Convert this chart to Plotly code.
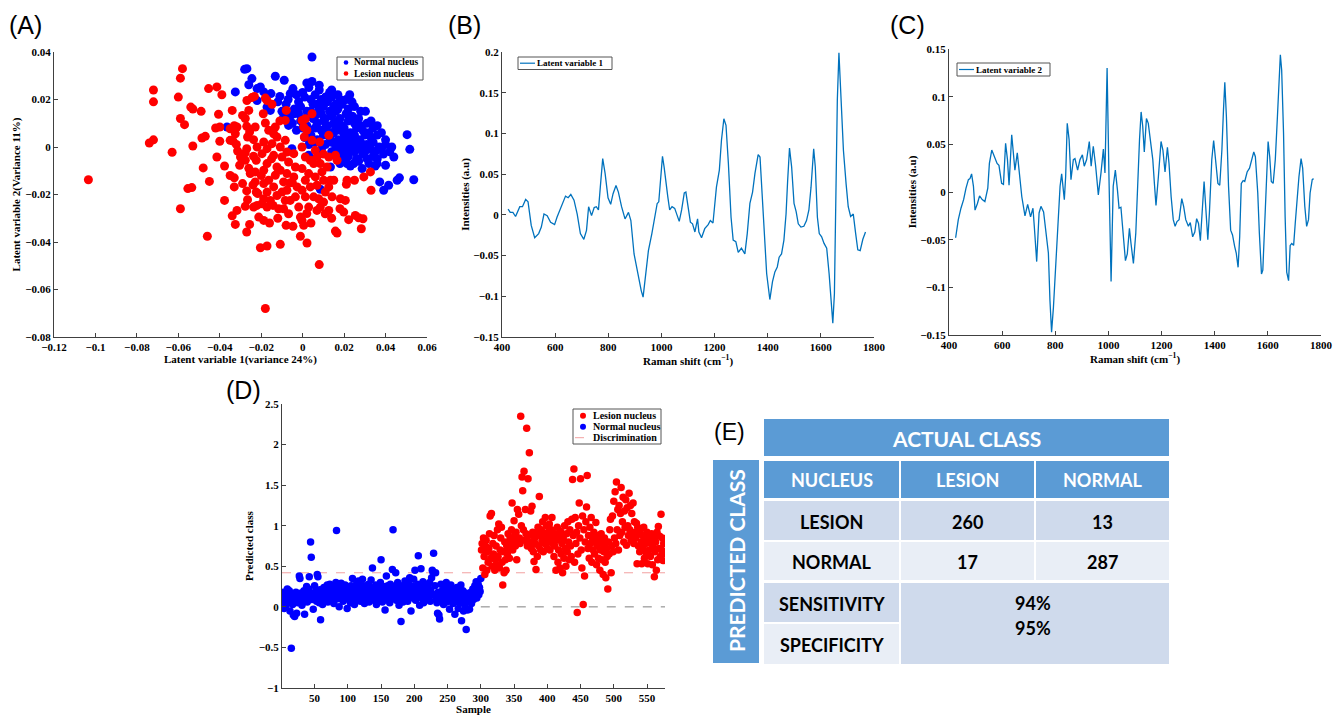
import plotly.graph_objects as go

# ---------------- Panel A : latent variable scores ----------------
lesion_x = [-0.1034, -0.018, 0.008, -0.046, -0.059, -0.058, -0.059, -0.072, -0.072, -0.060,
            -0.074, -0.072, -0.063, -0.059, -0.057, -0.054, -0.053, -0.049, -0.053, -0.0486,
            -0.047, -0.048, -0.0554, -0.0535, -0.045, -0.0454, -0.0414, -0.039, -0.0406, -0.042,
            -0.040, -0.040, -0.0414, -0.0377, -0.034, -0.035, -0.033, -0.0317, -0.0336, -0.032,
            -0.035, -0.033, -0.034, -0.0325, -0.0317, -0.0304, -0.029, -0.0277, -0.0269, -0.026,
            -0.0277, -0.027, -0.0256, -0.0266, -0.027, -0.0277, -0.026, -0.027, -0.0266, -0.0277,
            -0.027, -0.0256, -0.0245, -0.0233, -0.0229, -0.0237, -0.022, -0.0237, -0.0224, -0.0229,
            -0.0229, -0.0224, -0.0217, -0.022, -0.0237, -0.0204, -0.0172, -0.0212, -0.0188, -0.0196,
            -0.018, -0.0172, -0.018, -0.0164, -0.0188, -0.0172, -0.0196, -0.0172, -0.0188, -0.0164,
            -0.0188, -0.0172, -0.0188, -0.0172, -0.0156, -0.0148, -0.014, -0.0148, -0.014, -0.0124,
            -0.0132, -0.014, -0.0124, -0.0143, -0.0116, -0.0108, -0.0124, -0.0108, -0.010, -0.0108,
            -0.0092, -0.010, -0.0084, -0.0092, -0.0079, -0.0084, -0.0076, -0.0068, -0.0076, -0.0063,
            -0.0076, -0.0068, -0.0047, -0.006, -0.0043, -0.0035, -0.0043, -0.0027, -0.0035, -0.0019,
            -0.0011, -0.0011, -0.0003, 0.0005, -0.0003, 0.0005, 0.0008, -0.0003, 0.0013, -0.0003,
            0.0013, -0.0003, 0.0013, 0.0021, 0.0029, 0.0029, 0.0037, 0.0045, 0.0037, 0.0053,
            0.0061, 0.0053, 0.0061, 0.0069, 0.0077, 0.0069, 0.0085, 0.0085, 0.0093, 0.0082,
            0.0101, 0.0109, 0.0101, 0.0126, 0.0126, 0.0118, 0.0134, 0.0126, 0.0142, 0.0126,
            0.0109, 0.0158, 0.0166, 0.015, 0.0182, 0.0206, 0.0158, 0.0166, 0.0198, 0.0222,
            0.0214, 0.0211, 0.025, 0.0254, 0.027, 0.0283, 0.0291, 0.0295, 0.0327, 0.033,
            0.0013, -0.0084, 0.0045, -0.0132, -0.0377, -0.033, -0.030, -0.0325, -0.035, -0.029,
            -0.0314, -0.0253, -0.005, -0.012, 0.002, -0.020, -0.015, 0.010, -0.008, 0.004,
            -0.016, 0.014, 0.018, -0.024, -0.019, -0.011, 0.007, 0.002]
lesion_y = [-0.0138, -0.068, -0.0495, -0.0376, -0.026, 0.033, 0.029, 0.024, 0.019, 0.021,
            0.0017, 0.003, -0.0022, 0.012, 0.0094, 0.0168, 0.016, 0.015, 0.0004, 0.0038,
            0.0045, -0.0088, -0.0175, -0.0171, -0.0145, 0.0246, 0.0253, 0.022, 0.0138, 0.008,
            0.0084, 0.0024, -0.0042, -0.008, 0.0154, 0.0077, 0.009, 0.0084, 0.0025, 0.0011,
            -0.012, -0.013, -0.029, -0.0326, -0.0267, -0.0077, -0.0154, -0.0056, 0.0196, 0.0154,
            0.012, 0.0087, 0.0063, 0.0042, -0.0007, -0.0025, -0.009, -0.0185, -0.0222, -0.025,
            -0.0358, -0.0326, 0.0208, 0.0213, 0.0084, 0.0031, 0.0, -0.0039, -0.0056, -0.0105,
            -0.0147, -0.019, -0.0196, -0.0246, -0.0253, -0.0424, -0.0417, -0.0295, -0.0309, -0.0239,
            0.0206, 0.0196, 0.0101, 0.007, 0.0021, -0.0007, -0.0028, -0.007, -0.0098, -0.014,
            -0.0154, -0.019, -0.0218, -0.0253, -0.0225, 0.018, 0.0056, 0.0014, -0.0035, -0.0084,
            -0.0119, -0.0168, -0.0204, -0.0246, -0.026, -0.041, 0.0042, 0.0, -0.0042, -0.0098,
            -0.0147, -0.019, -0.0225, -0.026, 0.0154, 0.0028, -0.0021, -0.0063, -0.0112, -0.0152,
            -0.0182, -0.0281, -0.0334, -0.0225, -0.0028, -0.0084, -0.0126, -0.0168, -0.021, -0.0253,
            -0.0295, -0.0376, -0.0309, -0.033, 0.0112, 0.0084, 0.0042, 0.0, -0.0042, -0.0091,
            -0.014, -0.0182, -0.021, -0.0404, -0.0253, -0.0112, -0.0056, 0.014, -0.0168, -0.021,
            -0.0014, -0.007, -0.0126, -0.0161, -0.0218, -0.0267, -0.0253, -0.007, -0.0105, 0.0021,
            -0.014, -0.019, -0.0232, 0.0049, -0.0042, -0.0084, -0.014, -0.0168, -0.021, -0.0267,
            -0.0281, -0.0035, -0.0056, -0.014, -0.0218, -0.0225, -0.0354, -0.0362, -0.0274, -0.0306,
            -0.014, -0.0157, -0.014, -0.0288, -0.0298, -0.0344, -0.0302, -0.0126, -0.0105, -0.0182,
            0.0119, 0.0112, 0.0028, 0.0084, -0.0225, -0.0168, -0.0042, 0.0056, 0.0028, 0.0133,
            -0.0017, -0.0112, -0.015, -0.030, -0.028, -0.012, -0.005, -0.003, -0.033, -0.032,
            -0.032, -0.030, -0.026, -0.016, 0.014, 0.011, -0.004, 0.007]

normal_x = [0.0045, -0.028, -0.0269, -0.0132, -0.0089, 0.0045, -0.026, -0.0245, -0.0325, -0.022,
            -0.0204, -0.0153, -0.011, -0.0047, -0.006, 0.0227, 0.0238, 0.0303, 0.0504, 0.0517,
            0.0536, 0.044, 0.040, 0.0372, 0.0391, 0.0415, 0.0456, 0.0467, 0.0359, 0.0287,
            0.0085, 0.0134, 0.0029, -0.0052, -0.0068, -0.0043, -0.0092, -0.0172, -0.0156, -0.022,
            -0.0188, -0.0365, 0.0214, 0.0246, 0.019,
            0.0, 0.003, 0.006, 0.008, 0.011, 0.013,
            -0.002, 0.001, 0.004, 0.007, 0.009, 0.012, 0.014, 0.016, 0.018,
            -0.004, -0.001, 0.002, 0.005, 0.008, 0.010, 0.013, 0.015, 0.017, 0.019, 0.022,
            -0.006, -0.002, 0.001, 0.004, 0.006, 0.009, 0.011, 0.014, 0.016, 0.018, 0.021, 0.024, 0.027,
            -0.005, -0.001, 0.002, 0.005, 0.007, 0.010, 0.012, 0.015, 0.017, 0.019, 0.022, 0.025, 0.028, 0.031,
            -0.003, 0.000, 0.003, 0.006, 0.009, 0.011, 0.014, 0.016, 0.018, 0.020, 0.023, 0.026, 0.029, 0.032, 0.034,
            0.001, 0.004, 0.007, 0.010, 0.013, 0.015, 0.017, 0.020, 0.022, 0.025, 0.027, 0.030, 0.033, 0.036,
            0.003, 0.006, 0.011, 0.014, 0.016, 0.019, 0.021, 0.024, 0.026, 0.028, 0.031, 0.034, 0.037, 0.040,
            0.009, 0.014, 0.018, 0.020, 0.023, 0.025, 0.028, 0.030, 0.033, 0.035, 0.038, 0.042,
            0.016, 0.019, 0.022, 0.026, 0.029, 0.031, 0.034, 0.036, 0.039,
            0.018, 0.023, 0.027, 0.032, 0.035,
            -0.008, -0.010, -0.007, -0.012, -0.003,
            0.002, 0.008, 0.014, 0.017, 0.021, 0.025, 0.028, 0.033, 0.036, 0.038, 0.040, 0.043]
normal_y = [0.0379, 0.0327, 0.033, 0.0298, 0.0281, 0.0276, 0.0262, 0.0288, 0.0232, 0.0246,
            0.0253, 0.0225, 0.0213, 0.0246, 0.0225, 0.022, 0.019, 0.015, 0.0052, -0.001,
            -0.0138, -0.0042, -0.0077, -0.0147, -0.0182, -0.0161, -0.014, -0.013, -0.007, -0.0091,
            -0.0178, -0.0084, -0.0035, -0.0007, 0.0091, 0.014, 0.0126, 0.0168, 0.0154, 0.0196,
            0.0232, 0.0084, -0.007, -0.007, -0.0035,
            0.023, 0.025, 0.022, 0.024, 0.021, 0.023,
            0.019, 0.021, 0.020, 0.018, 0.020, 0.019, 0.021, 0.018, 0.020,
            0.016, 0.017, 0.015, 0.018, 0.016, 0.017, 0.015, 0.017, 0.016, 0.018, 0.016,
            0.013, 0.014, 0.012, 0.015, 0.013, 0.014, 0.012, 0.013, 0.015, 0.012, 0.014, 0.013, 0.012,
            0.010, 0.011, 0.009, 0.012, 0.010, 0.011, 0.009, 0.010, 0.011, 0.009, 0.011, 0.010, 0.009, 0.010,
            0.007, 0.008, 0.006, 0.008, 0.007, 0.008, 0.006, 0.008, 0.007, 0.008, 0.006, 0.008, 0.007, 0.006, 0.008,
            0.004, 0.005, 0.003, 0.005, 0.004, 0.006, 0.003, 0.005, 0.004, 0.005, 0.003, 0.005, 0.004, 0.005,
            0.001, 0.002, 0.001, 0.002, 0.000, 0.002, 0.001, 0.002, 0.000, 0.002, 0.001, 0.002, 0.000, 0.001,
            -0.001, -0.002, -0.001, -0.002, -0.001, -0.002, -0.001, -0.002, -0.001, -0.002, -0.001, -0.002,
            -0.004, -0.005, -0.004, -0.005, -0.003, -0.005, -0.004, -0.005, -0.003,
            -0.007, -0.008, -0.006, -0.007, -0.008,
            0.018, 0.015, 0.020, 0.019, 0.022,
            0.027, 0.026, 0.024, 0.022, 0.020, 0.017, 0.015, 0.011, 0.009, 0.006, 0.003, 0.000]

# ---------------- Panel B : latent variable 1 loading ----------------
lv1_shift = [423, 431, 441, 451, 467, 477, 489, 498, 510, 523,
             538, 548, 558, 570, 583, 598, 607, 620, 639, 649,
             659, 671, 683, 695, 708, 718, 726, 737, 747, 755,
             763, 770, 779, 788, 799, 809, 818, 829, 838, 850,
             863, 876, 885, 897, 906, 915, 924, 931, 941, 951,
             964, 975, 984, 990, 996, 1004, 1010, 1018, 1024, 1031,
             1040, 1050, 1059, 1067, 1076, 1086, 1092, 1101, 1109, 1117,
             1126, 1136, 1141, 1151, 1163, 1176, 1184, 1194, 1207, 1218,
             1226, 1235, 1243, 1252, 1262, 1270, 1280, 1289, 1301, 1314,
             1323, 1333, 1343, 1352, 1364, 1371, 1378, 1387, 1396, 1408,
             1418, 1427, 1436, 1443, 1452, 1461, 1469, 1475, 1482, 1490,
             1499, 1507, 1515, 1525, 1536, 1546, 1555, 1563, 1573, 1579,
             1587, 1594, 1603, 1612, 1622, 1631, 1637, 1645, 1651, 1657,
             1662, 1668, 1675, 1685, 1695, 1703, 1712, 1722, 1731, 1739,
             1748, 1758, 1768]
lv1_intensity = [0.007, 0.003, 0.003, -0.002, 0.010, 0.010, 0.019, 0.016, -0.013, -0.028,
                 -0.023, -0.015, 0.001, -0.001, -0.009, -0.012, -0.003, 0.008, 0.023, 0.021,
                 0.025, 0.018, 0.001, -0.023, -0.030, -0.019, 0.010, -0.001, 0.009, 0.010,
                 0.006, 0.034, 0.069, 0.051, 0.021, 0.013, 0.026, 0.036, 0.028, 0.010,
                 -0.005, 0.003, -0.007, -0.048, -0.064, -0.076, -0.093, -0.101, -0.076, -0.044,
                 -0.023, -0.003, 0.014, 0.016, 0.042, 0.072, 0.059, 0.033, 0.022, 0.006,
                 0.010, 0.008, -0.001, -0.008, 0.006, 0.027, 0.028, 0.008, -0.009, -0.011,
                 -0.021, -0.005, -0.021, -0.028, -0.017, -0.012, -0.007, -0.010, 0.034, 0.055,
                 0.092, 0.118, 0.110, 0.063, -0.003, -0.031, -0.033, -0.046, -0.041, -0.048,
                 -0.023, 0.014, 0.028, 0.051, 0.074, 0.071, 0.034, -0.023, -0.072, -0.104,
                 -0.082, -0.070, -0.064, -0.052, -0.048, -0.031, 0.001, 0.042, 0.082, 0.059,
                 0.014, 0.004, -0.011, -0.015, -0.014, -0.007, 0.006, 0.034, 0.081, 0.059,
                 -0.003, -0.023, -0.027, -0.035, -0.041, -0.072, -0.101, -0.133, -0.097, 0.038,
                 0.141, 0.199, 0.141, 0.079, 0.038, 0.010, -0.002, 0.001, -0.023, -0.043,
                 -0.044, -0.030, -0.021]

# ---------------- Panel C : latent variable 2 loading ----------------
lv2_shift = [425, 435, 445, 455, 464, 473, 479, 485, 492, 498,
             507, 515, 525, 535, 546, 552, 561, 571, 581, 588,
             598, 605, 613, 620, 626, 636, 642, 648, 657, 665,
             674, 686, 696, 707, 716, 721, 730, 739, 746, 756,
             765, 774, 780, 786, 793, 801, 809, 818, 824, 834,
             839, 845, 852, 859, 868, 874, 884, 893, 902, 909,
             918, 928, 935, 943, 952, 962, 972, 981, 987, 995,
             1002, 1010, 1018, 1026, 1034, 1040, 1047, 1055, 1064, 1071,
             1079, 1085, 1094, 1103, 1110, 1117, 1123, 1129, 1135, 1143,
             1150, 1159, 1167, 1173, 1179, 1188, 1198, 1205, 1213, 1222,
             1228, 1236, 1244, 1251, 1258, 1266, 1276, 1283, 1291, 1301,
             1308, 1317, 1325, 1332, 1339, 1346, 1353, 1360, 1366, 1374,
             1380, 1389, 1396, 1404, 1412, 1419, 1427, 1433, 1438, 1444,
             1452, 1460, 1467, 1475, 1481, 1488, 1494, 1500, 1507, 1513,
             1522, 1531, 1538, 1547, 1553, 1562, 1568, 1576, 1581, 1587,
             1594, 1601, 1607, 1613, 1620, 1628, 1636, 1642, 1647, 1652,
             1659, 1665, 1671, 1678, 1684, 1690, 1697, 1703, 1710, 1717,
             1725, 1731, 1739, 1746, 1753, 1759, 1767, 1772]
lv2_intensity = [-0.048, -0.029, -0.017, -0.008, 0.004, 0.013, 0.014, 0.019, 0.006, -0.019,
                 -0.012, -0.004, -0.008, -0.010, 0.004, 0.030, 0.044, 0.037, 0.030, 0.028,
                 0.009, 0.008, 0.051, 0.034, 0.007, 0.060, 0.037, 0.023, 0.041, 0.016,
                 -0.005, -0.025, -0.013, -0.026, -0.017, -0.036, -0.073, -0.022, -0.015, -0.021,
                 -0.043, -0.064, -0.114, -0.147, -0.121, -0.082, -0.043, 0.006, 0.019, -0.008,
                 0.016, 0.072, 0.055, 0.013, 0.034, 0.035, 0.023, 0.034, 0.039, 0.027,
                 0.034, 0.053, 0.027, 0.048, 0.027, -0.003, 0.020, 0.045, 0.020, 0.130,
                 0.016, -0.094, 0.006, 0.023, 0.002, -0.017, -0.016, -0.043, -0.072, -0.065,
                 -0.038, -0.054, -0.075, -0.043, 0.016, 0.055, 0.084, 0.069, 0.042, 0.077,
                 0.072, 0.048, 0.034, 0.009, -0.014, 0.016, 0.053, 0.044, 0.021, 0.047,
                 0.030, -0.005, -0.029, -0.036, -0.031, -0.029, -0.007, -0.015, -0.029, -0.036,
                 -0.032, -0.047, -0.042, -0.028, -0.033, -0.051, -0.022, 0.011, -0.015, -0.050,
                 -0.022, 0.034, 0.054, 0.034, 0.009, 0.007, 0.044, 0.086, 0.115, 0.079,
                 0.006, -0.040, -0.045, -0.057, -0.064, -0.079, -0.047, 0.009, 0.012, 0.011,
                 0.021, 0.025, 0.034, 0.042, 0.037, -0.001, -0.043, -0.086, -0.082, -0.043,
                 0.016, 0.053, 0.037, 0.011, 0.009, 0.034, 0.079, 0.125, 0.144, 0.128,
                 0.062, -0.026, -0.084, -0.093, -0.056, -0.054, -0.056, -0.033, -0.008, 0.016,
                 0.035, 0.025, -0.015, -0.036, -0.029, -0.001, 0.013, 0.014]

# ---------------- Panel D : predicted class per sample ----------------
normal_pred = [0.12, 0.05, 0.18, -0.02, 0.08, 0.15, 0.02, 0.10, 0.22, 0.06,
               0.14, 0.20, -0.05, 0.09, -0.51, 0.16, 0.03, -0.10, 0.12, -0.12,
               0.07, 0.18, -0.08, 0.11, 0.05, 0.14, 0.38, 0.35, 0.09, 0.17,
               0.02, 0.12, 0.08, 0.20, -0.09, 0.15, 0.10, 0.25, 0.06, 0.18,
               0.22, 0.37, 0.13, 0.80, 0.61, 0.09, 0.17, -0.03, 0.14, 0.26,
               0.11, 0.19, 0.07, 0.40, 0.37, 0.15, 0.05, 0.21, -0.16, 0.12,
               0.18, 0.03, 0.10, 0.24, 0.16, 0.08, 0.20, 0.13, 0.27, 0.06,
               0.19, 0.11, 0.28, 0.15, 0.22, 0.09, 0.17, 0.25, 0.04, 0.13,
               0.21, 0.30, 0.94, 0.18, 0.10, 0.26, 0.00, 0.14, 0.23, 0.29,
               0.12, 0.19, 0.07, 0.24, 0.16, 0.27, 0.10, 0.20, -0.02, 0.15,
               0.22, 0.09, 0.17, 0.05, 0.26, 0.13, 0.35, 0.19, 0.11, 0.03,
               0.21, 0.14, 0.28, 0.08, 0.18, 0.32, 0.12, 0.24, 0.07, 0.20,
               0.15, 0.34, 0.10, 0.26, 0.04, 0.17, 0.22, 0.09, 0.19, 0.13,
               0.28, 0.06, 0.21, 0.16, 0.33, 0.11, 0.48, 0.19, 0.08, 0.24,
               0.14, 0.27, 0.03, 0.20, 0.17, 0.10, 0.23, 0.13, 0.30, 0.58,
               0.16, 0.06, 0.25, 0.12, 0.21, -0.04, 0.19, 0.38, 0.09, 0.26,
               0.14, 0.22, 0.05, 0.28, 0.17, 0.11, 0.46, 0.95, 0.20, 0.13,
               0.25, 0.42, 0.08, 0.19, 0.30, 0.15, 0.02, 0.23, 0.12, -0.18,
               0.18, 0.26, 0.06, 0.21, 0.14, 0.32, 0.10, 0.24, 0.17, 0.07,
               0.29, 0.13, 0.36, 0.20, -0.05, 0.16, 0.25, 0.11, 0.34, 0.19,
               0.45, 0.08, 0.22, 0.15, 0.28, 0.63, 0.12, 0.02, 0.26, 0.47,
               0.18, 0.10, 0.31, 0.05, 0.21, 0.14, 0.27, 0.09, 0.20, 0.16,
               0.24, 0.12, 0.30, 0.07, 0.19, 0.36, 0.45, 0.43, 0.66, 0.15,
               0.26, 0.42, 0.10, 0.05, -0.08, 0.18, -0.10, -0.15, 0.12, 0.28,
               0.08, 0.20, 0.14, 0.03, 0.25, 0.16, 0.10, 0.30, 0.06, 0.19,
               0.12, 0.22, -0.03, 0.15, 0.27, 0.09, 0.18, 0.04, 0.13, 0.21,
               -0.09, 0.16, 0.07, 0.24, 0.11, -0.02, 0.19, 0.05, 0.14, 0.27,
               -0.17, 0.08, 0.20, -0.05, 0.12, 0.02, 0.17, -0.28, 0.06, -0.04,
               0.10, 0.15, -0.03, 0.08, 0.18, 0.04, 0.12, 0.22, 0.09, 0.14,
               0.26, 0.17, 0.31, 0.11, 0.20, 0.28, 0.15, 0.24, 0.19, 0.35]
lesion_pred = [0.70, 0.78, 0.48, 0.85, 0.62, 0.40, 0.75, 0.82, 0.45, 0.68,
               0.55, 0.72, 0.90, 1.12, 0.60, 1.15, 0.50, 0.78, 0.65, 0.88,
               0.45, 0.58, 0.75, 0.52, 0.95, 0.62, 1.02, 0.48, 0.70, 0.85,
               0.98, 0.55, 0.27, 0.68, 0.42, 0.80, 0.58, 0.45, 0.75, 0.65,
               0.90, 0.72, 0.60, 0.85, 0.78, 0.95, 1.28, 0.70, 0.82, 1.06,
               0.88, 0.75, 0.92, 0.58, 1.20, 0.80, 1.14, 0.85, 0.78, 2.35,
               1.00, 1.60, 1.43, 0.95, 1.67, 0.82, 1.20, 0.90, 2.20, 0.75,
               1.58, 0.88, 1.90, 0.80, 1.18, 0.72, 1.24, 0.92, 0.68, 0.56,
               0.85, 0.78, 0.46, 0.90, 0.62, 0.98, 0.75, 1.36, 0.88, 0.70,
               0.95, 0.82, 1.05, 0.68, 0.90, 0.78, 1.10, 0.85, 1.00, 0.72,
               0.92, 0.80, 1.02, 0.70, 0.88, 0.95, 1.10, 0.78, 0.85, 0.62,
               0.75, 0.90, 0.45, 0.82, 0.98, 0.55, 0.70, 0.88, 0.48, 0.93,
               0.65, 0.78, 0.42, 0.85, 0.60, 1.00, 0.72, 0.50, 0.90, 0.68,
               1.05, 0.80, 0.58, 0.95, 0.75, 0.62, 1.08, 1.57, 0.88, 1.70,
               0.55, 1.10, 0.78, 0.92, -0.07, 0.65, 1.00, 1.28, 0.85, 1.58,
               0.70, 0.48, 1.12, 0.03, 0.95, 0.38, 0.80, 1.05, 1.23, 1.62,
               0.72, 0.88, 0.60, 0.98, 0.78, 1.10, 0.55, 0.85, 0.70, 0.92,
               0.65, 0.80, 1.04, 0.52, 0.75, 0.88, 0.60, 0.82, 0.45, 0.70,
               0.90, 0.58, 0.78, 0.40, 0.68, 0.85, 0.55, 0.36, 0.72, 0.62,
               0.22, 0.80, 0.65, 0.95, 1.08, 0.42, 0.75, 1.12, 0.68, 1.30,
               0.85, 1.42, 0.78, 1.54, 0.95, 1.20, 0.70, 1.25, 0.88, 1.15,
               1.47, 0.92, 1.05, 1.35, 0.80, 1.18, 0.98, 1.32, 0.76, 1.22,
               1.00, 0.88, 1.40, 0.95, 1.25, 0.82, 1.15, 0.90, 1.28, 0.78,
               1.05, 0.92, 0.85, 1.03, 0.53, 0.98, 0.75, 0.90, 0.68, 0.95,
               0.80, 0.53, 0.88, 0.72, 0.98, 0.60, 0.85, 0.78, 0.66, 0.92,
               0.53, 0.82, 0.70, 0.88, 0.62, 0.78, 0.90, 0.52, 0.75, 0.85,
               0.37, 0.68, 0.80, 0.45, 0.92, 0.58, 0.99, 0.72, 0.87, 0.62,
               1.14, 0.70, 0.85, 0.57, 0.78, 0.66, 0.80]
discrimination = 0.42

# ---------------- Panel E : confusion table ----------------
table_header = "ACTUAL CLASS"
side_header = "PREDICTED CLASS"
col_labels = ["NUCLEUS", "LESION", "NORMAL"]
row_labels = ["LESION", "NORMAL"]
confusion = [[260, 13], [17, 287]]
metric_labels = ["SENSITIVITY", "SPECIFICITY"]
metric_values = ["94%", "95%"]

# ======================================================================
W, H = 1341, 715


def fx(p):
    return p / W


def fy(p):
    return 1 - p / H


BLUE = "#0000FF"
RED = "#FF0000"
LINEC = "#0072BD"
AXC = "#404040"
SERIF = "Liberation Serif"
tick_font = dict(family=SERIF, size=11, color="black", weight="bold")
title_font = dict(family=SERIF, size=11, color="black", weight="bold")

fig = go.Figure()

# A
fig.add_trace(go.Scatter(x=normal_x, y=normal_y, mode="markers", name="Normal nucleus",
                         marker=dict(color=BLUE, size=9, line=dict(width=0)),
                         xaxis="x", yaxis="y", showlegend=False))
fig.add_trace(go.Scatter(x=lesion_x, y=lesion_y, mode="markers", name="Lesion nucleus",
                         marker=dict(color=RED, size=9, line=dict(width=0)),
                         xaxis="x", yaxis="y", showlegend=False))
# B
fig.add_trace(go.Scatter(x=lv1_shift, y=lv1_intensity, mode="lines", name="Latent variable 1",
                         line=dict(color=LINEC, width=1.3), xaxis="x2", yaxis="y2",
                         showlegend=False))
# C
fig.add_trace(go.Scatter(x=lv2_shift, y=lv2_intensity, mode="lines", name="Latent variable 2",
                         line=dict(color=LINEC, width=1.3), xaxis="x3", yaxis="y3",
                         showlegend=False))
# D
n_normal = len(normal_pred)
n_total = n_normal + len(lesion_pred)
normal_idx = list(range(1, n_normal + 1))
lesion_idx = list(range(n_normal + 1, n_total + 1))
fig.add_trace(go.Scatter(x=[1, n_total], y=[discrimination, discrimination], mode="lines",
                         name="Discrimination",
                         line=dict(color="#F2A0A0", width=1, dash="dash"),
                         xaxis="x4", yaxis="y4", showlegend=False))
fig.add_trace(go.Scatter(x=[n_normal, n_total], y=[0, 0], mode="lines",
                         line=dict(color="#808080", width=1, dash="dash"),
                         xaxis="x4", yaxis="y4", showlegend=False))
fig.add_trace(go.Scatter(x=normal_idx, y=normal_pred, mode="markers", name="Normal nucleus",
                         marker=dict(color=BLUE, size=7.5, line=dict(width=0)),
                         xaxis="x4", yaxis="y4", showlegend=False))
fig.add_trace(go.Scatter(x=lesion_idx, y=lesion_pred, mode="markers", name="Lesion nucleus",
                         marker=dict(color=RED, size=7.5, line=dict(width=0)),
                         xaxis="x4", yaxis="y4", showlegend=False))


def axis(domain, anchor, rng, dtick, title, standoff, tick0=None):
    d = dict(domain=domain, anchor=anchor, range=rng, dtick=dtick, automargin=False,
             title=dict(text=title, standoff=standoff, font=title_font),
             showline=True, linecolor=AXC, linewidth=1, ticks="inside", ticklen=4,
             tickcolor=AXC, showgrid=False, zeroline=False, tickfont=tick_font,
             mirror=False)
    if tick0 is not None:
        d["tick0"] = tick0
    return d


layout = dict(
    template="none",
    width=W, height=H, margin=dict(l=0, r=0, t=0, b=0, pad=0, autoexpand=False),
    paper_bgcolor="white", plot_bgcolor="white", showlegend=False,
    xaxis=axis([fx(54), fx(427)], "y", [-0.12, 0.06], 0.02,
               "Latent variable 1(variance 24%)", 2, tick0=-0.12),
    yaxis=axis([fy(337), fy(52)], "x", [-0.08, 0.04], 0.02,
               "Latent variable 2(Variance 11%)", 2, tick0=-0.08),
    xaxis2=axis([fx(502), fx(874)], "y2", [400, 1800], 200,
                "Raman shift (cm<sup>−1</sup>)", 2),
    yaxis2=axis([fy(337), fy(52)], "x2", [-0.15, 0.2], 0.05,
                "Intensities (a.u)", 1, tick0=0),
    xaxis3=axis([fx(949), fx(1321)], "y3", [400, 1800], 200,
                "Raman shift (cm<sup>−1</sup>)", 2),
    yaxis3=axis([fy(335), fy(49)], "x3", [-0.15, 0.15], 0.05,
                "Intensities (a.u)", 1, tick0=0),
    xaxis4=axis([fx(282), fx(665)], "y4", [1, n_total], 50, "Sample", 0, tick0=0),
    yaxis4=axis([fy(688), fy(404)], "x4", [-1, 2.5], 0.5, "Predicted class", 2, tick0=0),
)
fig.update_layout(**layout)

shapes = []
annotations = []


def text(x, y, s, size, family=SERIF, color="black", weight="bold", xanchor="left",
         yanchor="middle", angle=0):
    annotations.append(dict(x=fx(x), y=fy(y), xref="paper", yref="paper", text=s,
                            showarrow=False, xanchor=xanchor, yanchor=yanchor,
                            textangle=angle, borderpad=0,
                            font=dict(family=family, size=size, color=color, weight=weight)))


def rect(x0, y0, x1, y1, fill=None, line=None, lw=1):
    shapes.append(dict(type="rect", xref="paper", yref="paper",
                       x0=fx(x0), x1=fx(x1), y0=fy(y1), y1=fy(y0),
                       fillcolor=fill if fill else "rgba(0,0,0,0)",
                       line=dict(color=line if line else "rgba(0,0,0,0)",
                                 width=lw if line else 0),
                       layer="above"))


def dot(cx, cy, r, color):
    shapes.append(dict(type="circle", xref="paper", yref="paper",
                       x0=fx(cx - r), x1=fx(cx + r), y0=fy(cy + r), y1=fy(cy - r),
                       fillcolor=color, line=dict(width=0), layer="above"))


def hline(x0, x1, y, color, width=1.2, dash="solid"):
    shapes.append(dict(type="line", xref="paper", yref="paper",
                       x0=fx(x0), x1=fx(x1), y0=fy(y), y1=fy(y),
                       line=dict(color=color, width=width, dash=dash), layer="above"))


# Panel labels
for lab, lx, cy, sz in [("(A)", 8, 25, 25), ("(B)", 447, 25, 25), ("(C)", 889, 25, 25),
                        ("(D)", 225, 390, 25), ("(E)", 713, 432, 23)]:
    text(lx, cy, lab, sz, family="Liberation Sans", weight="normal", xanchor="left")

# Legend A
rect(337, 57, 423, 80, fill="white", line="#555555")
dot(346, 62.5, 2.3, BLUE)
text(353, 62.5, "Normal nucleus", 9.5)
dot(346, 73.5, 2.3, RED)
text(353, 73.5, "Lesion nucleus", 9.5)

# Legend B
rect(518, 57, 612, 69.5, fill="white", line="#555555")
hline(520, 535, 63.2, LINEC)
text(536, 63.2, "Latent variable 1", 9)

# Legend C
rect(957, 63, 1050, 76, fill="white", line="#555555")
hline(959, 974, 69.5, LINEC)
text(975, 69.5, "Latent variable 2", 9)

# Legend D
rect(573, 409, 661, 444, fill="white", line="#555555")
dot(583, 415.7, 3, RED)
text(592, 415.7, "Lesion nucleus", 10)
dot(583, 426.7, 3, BLUE)
text(592, 426.7, "Normal nucleus", 10)
hline(575, 590, 437.7, "#F2A0A0", width=1, dash="dash")
text(592, 437.7, "Discrimination", 10)

# Table E
HEAD = "#5B9BD5"
DARK = "#CFDAEC"
LIGHT = "#E9EEF6"
TF = "Lato"
rect(764, 419, 1169, 456, fill=HEAD)
text(966, 438, table_header, 21, family=TF, color="white", xanchor="center")
rect(713, 460, 759, 663, fill=HEAD)
text(736, 561, side_header, 21, family=TF, color="white", xanchor="center", angle=-90)

col_edges = [(764, 899), (901, 1034), (1036, 1169)]
for (c0, c1), lab in zip(col_edges, col_labels):
    rect(c0, 461, c1, 498, fill=HEAD)
    text((c0 + c1) / 2, 480, lab, 18, family=TF, color="white", xanchor="center")

row_edges = [(501, 540), (542, 580)]
row_fill = [DARK, LIGHT]
for (r0, r1), lab, vals, fill in zip(row_edges, row_labels, confusion, row_fill):
    for (c0, c1), s in zip(col_edges, [lab] + [str(v) for v in vals]):
        rect(c0, r0, c1, r1, fill=fill)
        text((c0 + c1) / 2, (r0 + r1) / 2 + 1, s, 18, family=TF, xanchor="center")

metric_rows = [(583, 622), (624, 664)]
for (r0, r1), lab, fill in zip(metric_rows, metric_labels, [DARK, LIGHT]):
    rect(764, r0, 899, r1, fill=fill)
    text(831.5, (r0 + r1) / 2 + 1, lab, 18, family=TF, xanchor="center")
rect(901, 583, 1169, 664, fill=DARK)
for val, yy in zip(metric_values, [603, 628]):
    text(1033, yy, val, 18, family=TF, xanchor="center")

fig.update_layout(shapes=shapes, annotations=annotations)
fig.write_html("out.html")
